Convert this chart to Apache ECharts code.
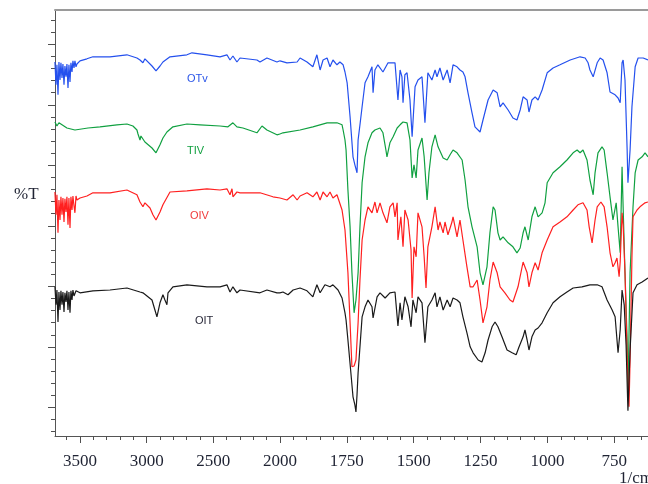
<!DOCTYPE html>
<html><head><meta charset="utf-8">
<script src="https://cdn.jsdelivr.net/npm/echarts@6/dist/echarts.min.js"></script>
<style>html,body{margin:0;padding:0;background:#fff}#c{width:648px;height:484px}</style>
</head><body><div id="c"></div>
<script>
// Wavenumber (1/cm), transmittance (offset, arbitrary %T units)
const OTv = [[3688,93.5],[3680,87.8],[3673,92.8],[3665,85.3],[3658,93.5],[3650,89],[3643,93.3],[3635,89.5],[3628,93],[3620,87.8],[3613,92.5],[3605,89.8],[3598,93],[3590,87],[3583,92.8],[3575,88.5],[3568,93.3],[3560,91],[3553,93.8],[3545,92],[3538,93.8],[3530,92.3],[3523,93],[3500,93.8],[3448,94.3],[3403,94.8],[3275,94.8],[3148,95.3],[3073,94.5],[3050,94],[3028,93.3],[3013,94.3],[2998,93.8],[2960,92.5],[2930,91.3],[2923,91.5],[2900,92.5],[2878,93.5],[2825,94.8],[2698,95.3],[2660,95.8],[2548,95.3],[2450,94.8],[2398,95.3],[2375,94],[2353,95],[2323,93.5],[2300,94.5],[2173,94],[2150,93.5],[2098,94.5],[2023,93.5],[2000,93.8],
[1974,93.3],[1936,93.5],[1925,94.5],[1899,93.5],[1877,92.3],[1862,95.3],[1850,91.5],[1839,94],[1824,94.5],[1813,92.3],[1802,94],[1787,92.8],[1776,93.5],[1764,92.8],[1757,91],[1749,88.3],[1738,79.8],[1727,69.8],[1720,67.8],[1712,65.8],[1708,74],[1701,77.8],[1693,82.3],[1682,88.3],[1671,89.8],[1656,92.3],[1652,85.8],[1645,91.5],[1634,92.8],[1615,91],[1596,93.3],[1570,93.3],[1559,84],[1551,91.5],[1544,89.8],[1540,83.3],[1533,90.3],[1525,90.8],[1514,84],[1506,74.8],[1495,87.3],[1484,89],[1469,89.8],[1458,78.3],[1447,90.8],[1432,89],[1420,91.5],[1413,89.8],[1402,92],[1390,89],[1375,91.5],[1364,88.3],[1353,92.8],[1338,92.3],[1327,91.5],[1316,91],[1308,89.8],[1297,85.8],[1282,80.8],[1271,77.3],[1252,76],[1241,79],[1222,84],[1203,86.5],[1188,85.8],[1177,82.3],[1166,83.3],[1147,81.5],[1129,79.5],[1114,79],[1102,81.5],[1091,84.8],[1076,84],[1069,81],[1058,84],[1046,84.8],[1035,84],[1020,86.5],[1001,90.8],[979,92],[953,92.8],[915,94],[878,94.8],[859,94.5],[848,93.3],[841,91.5],[829,89.8],[814,93.3],[803,94.5],[792,94],[777,90.8],[766,86],[747,85.3],[736,84.5],[728,83.3],[721,93.3],[717,94],[710,89],[702,71.5],[699,63.3],[691,71.5],[684,82.3],[672,92.3],[661,94.5],[642,94.5],[624,94]];

const TIV = [[3688,78.5],[3673,77.5],[3658,78.3],[3635,77.8],[3598,77],[3538,76.5],[3523,76.3],[3440,77],[3350,77.3],[3223,77.8],[3148,78],[3103,77.5],[3073,76.5],[3065,75.5],[3050,74],[3043,75],[3028,75.5],[3013,73.5],[2998,73],[2960,72],[2930,70.8],[2923,71],[2900,72.8],[2878,74.5],[2848,76],[2803,77.3],[2698,78],[2600,77.8],[2450,77.5],[2390,77.3],[2353,78.3],[2323,77.3],[2278,77],[2173,75.8],[2135,77.5],[2098,76.5],[2023,75.3],[2000,75.5],
[1989,75.8],[1925,76.5],[1877,77.3],[1824,78.3],[1787,78.3],[1768,77.8],[1764,76.5],[1757,74],[1753,71.5],[1746,61.5],[1738,52.3],[1731,40.8],[1723,30.8],[1720,31],[1716,34],[1708,40.8],[1701,52.3],[1693,63.3],[1682,69.8],[1671,73.3],[1656,75.8],[1645,76.5],[1626,77],[1615,75.8],[1604,71.5],[1600,69.8],[1589,73.3],[1577,74.8],[1562,77],[1551,77.8],[1540,78.5],[1525,78.3],[1514,74],[1506,64.5],[1499,67.8],[1491,64.5],[1484,71.5],[1469,74.5],[1461,69.8],[1450,59],[1443,65.8],[1432,72.3],[1420,75.3],[1409,72.3],[1390,69.5],[1375,69],[1364,70.3],[1353,71.5],[1338,70.8],[1319,69],[1308,64],[1297,57.3],[1282,52.3],[1263,47.3],[1252,40.8],[1241,37.8],[1226,42.3],[1215,50.8],[1203,57.3],[1196,56.5],[1185,50.8],[1177,49],[1166,49.8],[1147,48.3],[1129,47.3],[1114,45.8],[1102,47],[1091,50.8],[1084,52.3],[1072,49],[1058,54.8],[1046,57.3],[1035,54.8],[1020,55.8],[1009,58.3],[1001,63.3],[979,65.8],[953,67.3],[927,69],[904,70.8],[889,71.5],[878,70.8],[867,71.5],[852,69],[841,64],[829,60.3],[822,65.8],[811,70.8],[796,72.3],[788,71.5],[777,65.8],[766,59.8],[755,54],[743,58.3],[736,52.3],[728,45.8],[721,67.3],[717,57.3],[710,40.8],[702,24],[699,10.3],[691,40.8],[680,57.3],[672,65.8],[661,69],[646,69.8],[635,70.8],[624,69.8]];

const OIV = [[3688,61],[3680,55.3],[3673,60.3],[3665,50.8],[3658,59],[3650,54],[3643,59.8],[3635,55.3],[3628,59.5],[3620,53.5],[3613,59.3],[3605,56],[3598,59.8],[3590,52.8],[3583,59.5],[3575,52],[3568,59.8],[3560,56.5],[3553,60],[3545,57.5],[3538,55.8],[3530,60],[3523,59],[3500,59.5],[3448,60],[3403,60.8],[3275,60.8],[3148,61.5],[3073,60.3],[3050,58.5],[3028,57.3],[3013,58.3],[2998,57.8],[2975,57],[2953,55.3],[2930,54],[2923,54.3],[2900,56],[2878,57.8],[2825,61],[2698,61.3],[2548,61.8],[2450,61.5],[2398,61.8],[2375,60.3],[2360,61.8],[2353,59.8],[2323,61],[2300,60.8],[2150,60.8],[2053,59.8],[2000,59.5],
[1974,59],[1951,60.3],[1936,59],[1925,60],[1899,60.8],[1877,59.8],[1862,61],[1850,59],[1839,61],[1824,59.8],[1813,61],[1802,59.5],[1787,60.3],[1783,59.8],[1768,56.5],[1757,51.5],[1746,40.8],[1738,28.3],[1731,17.3],[1723,17.5],[1716,19],[1708,28.3],[1701,39],[1693,49],[1682,54],[1671,57.3],[1656,55.8],[1645,58.5],[1637,55.8],[1626,58.3],[1615,55.8],[1600,53.3],[1589,57.3],[1577,58.3],[1570,54.8],[1562,58.3],[1559,49],[1548,54.8],[1540,47.3],[1533,56.5],[1521,54],[1510,46.5],[1506,34.5],[1499,47.3],[1491,44.8],[1484,55.8],[1469,52.3],[1461,44.8],[1454,37],[1447,47.3],[1432,52.3],[1420,57.3],[1409,51.5],[1402,53.5],[1390,50.8],[1383,53.5],[1372,50.3],[1357,53.5],[1353,54.8],[1338,49.8],[1327,54],[1316,49],[1301,42.3],[1289,37.3],[1278,37.3],[1263,39],[1252,34],[1241,28.3],[1226,32.3],[1215,39],[1203,43.5],[1188,40.8],[1177,37.3],[1159,35.8],[1140,34],[1129,33.5],[1110,37.3],[1091,43.5],[1076,40.8],[1069,37.3],[1058,40.8],[1046,43.3],[1035,41.5],[1020,45.8],[1001,49],[979,52.3],[953,53.5],[927,54.8],[904,56.5],[886,57.8],[867,58.3],[852,56.5],[844,52.3],[833,48.3],[822,54],[814,57.3],[800,58.5],[788,57.3],[777,52.3],[766,45.8],[755,42.3],[747,43.3],[740,44.5],[732,39.8],[728,43.5],[721,55.8],[717,52.8],[710,40.8],[702,19.8],[695,7.3],[691,19],[684,44.8],[680,54.8],[665,56.5],[654,57.3],[635,58.3],[624,58.5]];

const OIT = [[3688,37.3],[3680,32.8],[3673,36.5],[3665,28.5],[3658,36],[3650,31.5],[3643,36.3],[3635,32.8],[3628,36],[3620,31],[3613,35.8],[3605,33.5],[3598,36.3],[3590,31.5],[3583,36],[3575,30.8],[3568,36.3],[3560,34],[3553,36.5],[3545,35],[3538,34.5],[3530,36.3],[3523,36],[3500,35.8],[3403,36.3],[3275,36.5],[3148,37],[3050,36],[3028,35.8],[3013,36.3],[2960,34],[2938,31.5],[2923,29.8],[2900,33.3],[2878,35.3],[2863,34],[2848,32.8],[2840,35.8],[2803,37.3],[2698,37.8],[2548,37.3],[2450,37.3],[2398,37.8],[2375,36],[2353,37.3],[2323,35.8],[2300,36.5],[2150,35.8],[2098,36.5],[2023,35.8],[2000,35.8],
[1989,36],[1970,35.3],[1951,36.5],[1925,37],[1899,36.3],[1877,34.8],[1862,37.8],[1850,35.8],[1832,37.8],[1813,37.3],[1802,37.8],[1783,36.5],[1768,34.5],[1757,30.8],[1753,29],[1746,24],[1735,15.8],[1727,9.8],[1720,7.8],[1716,6],[1712,10.3],[1708,15.8],[1701,22.3],[1693,29.8],[1682,32.3],[1671,34],[1656,32.3],[1652,29.5],[1637,34.8],[1626,35.8],[1607,34.5],[1589,35.8],[1570,36],[1559,27.5],[1551,33.3],[1544,29],[1533,34.8],[1521,32.3],[1510,27.3],[1503,34],[1491,30.8],[1484,34.8],[1469,33.3],[1458,23.3],[1447,32.3],[1432,34],[1420,35.8],[1413,32.3],[1402,34.8],[1390,31.5],[1375,34],[1364,32.3],[1353,34.5],[1338,34],[1327,33.3],[1316,29.8],[1301,25.8],[1289,22.3],[1278,20.8],[1259,19],[1245,18.5],[1233,20.8],[1222,24],[1207,27.3],[1196,28.5],[1185,27.3],[1170,24.8],[1151,21.5],[1132,20.8],[1117,20.3],[1106,22.3],[1091,24.8],[1084,26.5],[1076,24],[1069,21.5],[1058,24.8],[1046,26.5],[1035,27],[1020,28.3],[1001,30.8],[979,33.3],[953,34.8],[927,36],[904,37],[871,37.3],[841,37.8],[814,37.8],[796,37.3],[777,34],[758,31.5],[747,29.8],[736,20.8],[728,26.5],[721,36.5],[713,32.8],[706,22.8],[699,6.3],[691,21.5],[680,35.8],[665,37.8],[646,38.5],[624,39.5]];

const seriesNames = ['OTv', 'TIV', 'OIV', 'OIT'];
const seriesColors = ['#2450ee', '#10a040', '#ff2020', '#1a1a1a'];
const labelColors = ['#2a55e8', '#12a040', '#f03a3a', '#2a2a3a'];
const yLabel = '%T';
const xUnit = '1/cm';

const SERIF = '"Liberation Serif","Times New Roman",serif';
const SANS = '"Liberation Sans",Arial,sans-serif';
const TICK = '#505050';

const chart = echarts.init(document.getElementById('c'), null, {renderer: 'canvas'});

const gridDefs = [
  {left: 55, right: 0, top: 10, bottom: 48},        // 0 frame
  {left: 55, right: 368, top: 10, bottom: 48},      // 1 data 3690-2000
  {left: 280, right: 0, top: 10, bottom: 48},       // 2 data 2000-624
  {left: 66.67, right: 368, top: 10, bottom: 48},   // 3 minor ticks high
  {left: 80, right: 368, top: 10, bottom: 48},      // 4 major ticks high
  {left: 280, right: 7, top: 10, bottom: 48},       // 5 minor ticks low
  {left: 280, right: 33.7, top: 10, bottom: 48},    // 6 major ticks low
  {left: 55, right: 0, top: 20, bottom: 52.3},      // 7 y minor ticks
  {left: 55, right: 0, top: 44.2, bottom: 76.5}     // 8 y major ticks
];

const hidden = (g, extra) => Object.assign({type: 'value', gridIndex: g, show: false, min: 0, max: 1, axisLine: {onZero: false}}, extra || {});
const labelStyle = {show: true, fontFamily: SERIF, fontSize: 17, color: '#1f2333', margin: 17,
  formatter: v => String(v)};

const xAxes = [
  {type: 'value', gridIndex: 0, position: 'top', min: 0, max: 1,
   axisLine: {show: true, onZero: false, lineStyle: {color: '#9a9a9a', width: 2}},
   axisTick: {show: false}, axisLabel: {show: false}, splitLine: {show: false}},
  {type: 'value', gridIndex: 0, position: 'bottom', min: 0, max: 1,
   axisLine: {show: true, onZero: false, lineStyle: {color: '#555', width: 1}},
   axisTick: {show: false}, axisLabel: {show: false}, splitLine: {show: false}},
  hidden(1, {min: 2000, max: 3687.5, inverse: true}),
  hidden(2, {min: 624, max: 2000, inverse: true}),
  {type: 'value', gridIndex: 3, min: 2000, max: 3600, interval: 100, inverse: true,
   axisLine: {show: false, onZero: false}, axisTick: {show: true, length: 4, lineStyle: {color: TICK}},
   axisLabel: {show: false}, splitLine: {show: false}},
  {type: 'value', gridIndex: 4, min: 2000, max: 3500, interval: 500, inverse: true,
   axisLine: {show: false, onZero: false}, axisTick: {show: true, length: 7, lineStyle: {color: TICK}},
   axisLabel: labelStyle, splitLine: {show: false}},
  {type: 'value', gridIndex: 5, min: 650, max: 2000, interval: 50, inverse: true,
   axisLine: {show: false, onZero: false}, axisTick: {show: true, length: 4, lineStyle: {color: TICK}},
   axisLabel: {show: false}, splitLine: {show: false}},
  {type: 'value', gridIndex: 6, min: 750, max: 2000, interval: 250, inverse: true,
   axisLine: {show: false, onZero: false}, axisTick: {show: true, length: 7, lineStyle: {color: TICK}},
   axisLabel: Object.assign({}, labelStyle, {showMaxLabel: false}), splitLine: {show: false}},
  hidden(7),
  hidden(8)
];

const yAxes = [
  {type: 'value', gridIndex: 0, position: 'left', min: 0, max: 1,
   axisLine: {show: true, onZero: false, lineStyle: {color: '#555', width: 1}},
   axisTick: {show: false}, axisLabel: {show: false}, splitLine: {show: false}},
  hidden(1, {min: 0, max: 106.5}),
  hidden(2, {min: 0, max: 106.5}),
  hidden(3), hidden(4), hidden(5), hidden(6),
  {type: 'value', gridIndex: 7, min: 0, max: 34, interval: 1,
   axisLine: {show: false, onZero: false}, axisTick: {show: true, length: 4, lineStyle: {color: TICK}},
   axisLabel: {show: false}, splitLine: {show: false}},
  {type: 'value', gridIndex: 8, min: 0, max: 30, interval: 5,
   axisLine: {show: false, onZero: false}, axisTick: {show: true, length: 7, lineStyle: {color: TICK}},
   axisLabel: {show: false}, splitLine: {show: false}}
];

const allData = [OTv, TIV, OIV, OIT];
const series = [];
allData.forEach((arr, i) => {
  const hi = arr.filter(p => p[0] >= 2000);
  const lo = arr.filter(p => p[0] <= 2000);
  [[hi, 2, 1], [lo, 3, 2]].forEach(([d, xi, yi]) => {
    series.push({
      name: seriesNames[i], type: 'line', xAxisIndex: xi, yAxisIndex: yi,
      data: d, showSymbol: false, symbol: 'none', smooth: false,
      lineStyle: {color: seriesColors[i], width: 1.2}, z: 3 + i,
      animation: false, silent: true
    });
  });
});

const textLabels = [
  {text: seriesNames[0], left: 187, top: 73},
  {text: seriesNames[1], left: 187, top: 145},
  {text: seriesNames[2], left: 190, top: 210},
  {text: seriesNames[3], left: 195, top: 315}
];

const graphic = textLabels.map((t, i) => ({
  type: 'text', left: t.left, top: t.top, z: 10,
  style: {text: t.text, font: '11px ' + SANS, fill: labelColors[i]}
}));
graphic.push({type: 'text', left: 14, top: 186, z: 10, style: {text: yLabel, font: '17px ' + SERIF, fill: '#1f2333'}});
graphic.push({type: 'text', left: 619, top: 470, z: 10, style: {text: xUnit, font: '17px ' + SERIF, fill: '#1f2333'}});

chart.setOption({
  animation: false,
  backgroundColor: '#ffffff',
  grid: gridDefs,
  xAxis: xAxes,
  yAxis: yAxes,
  series: series,
  graphic: graphic
});
</script></body></html>
